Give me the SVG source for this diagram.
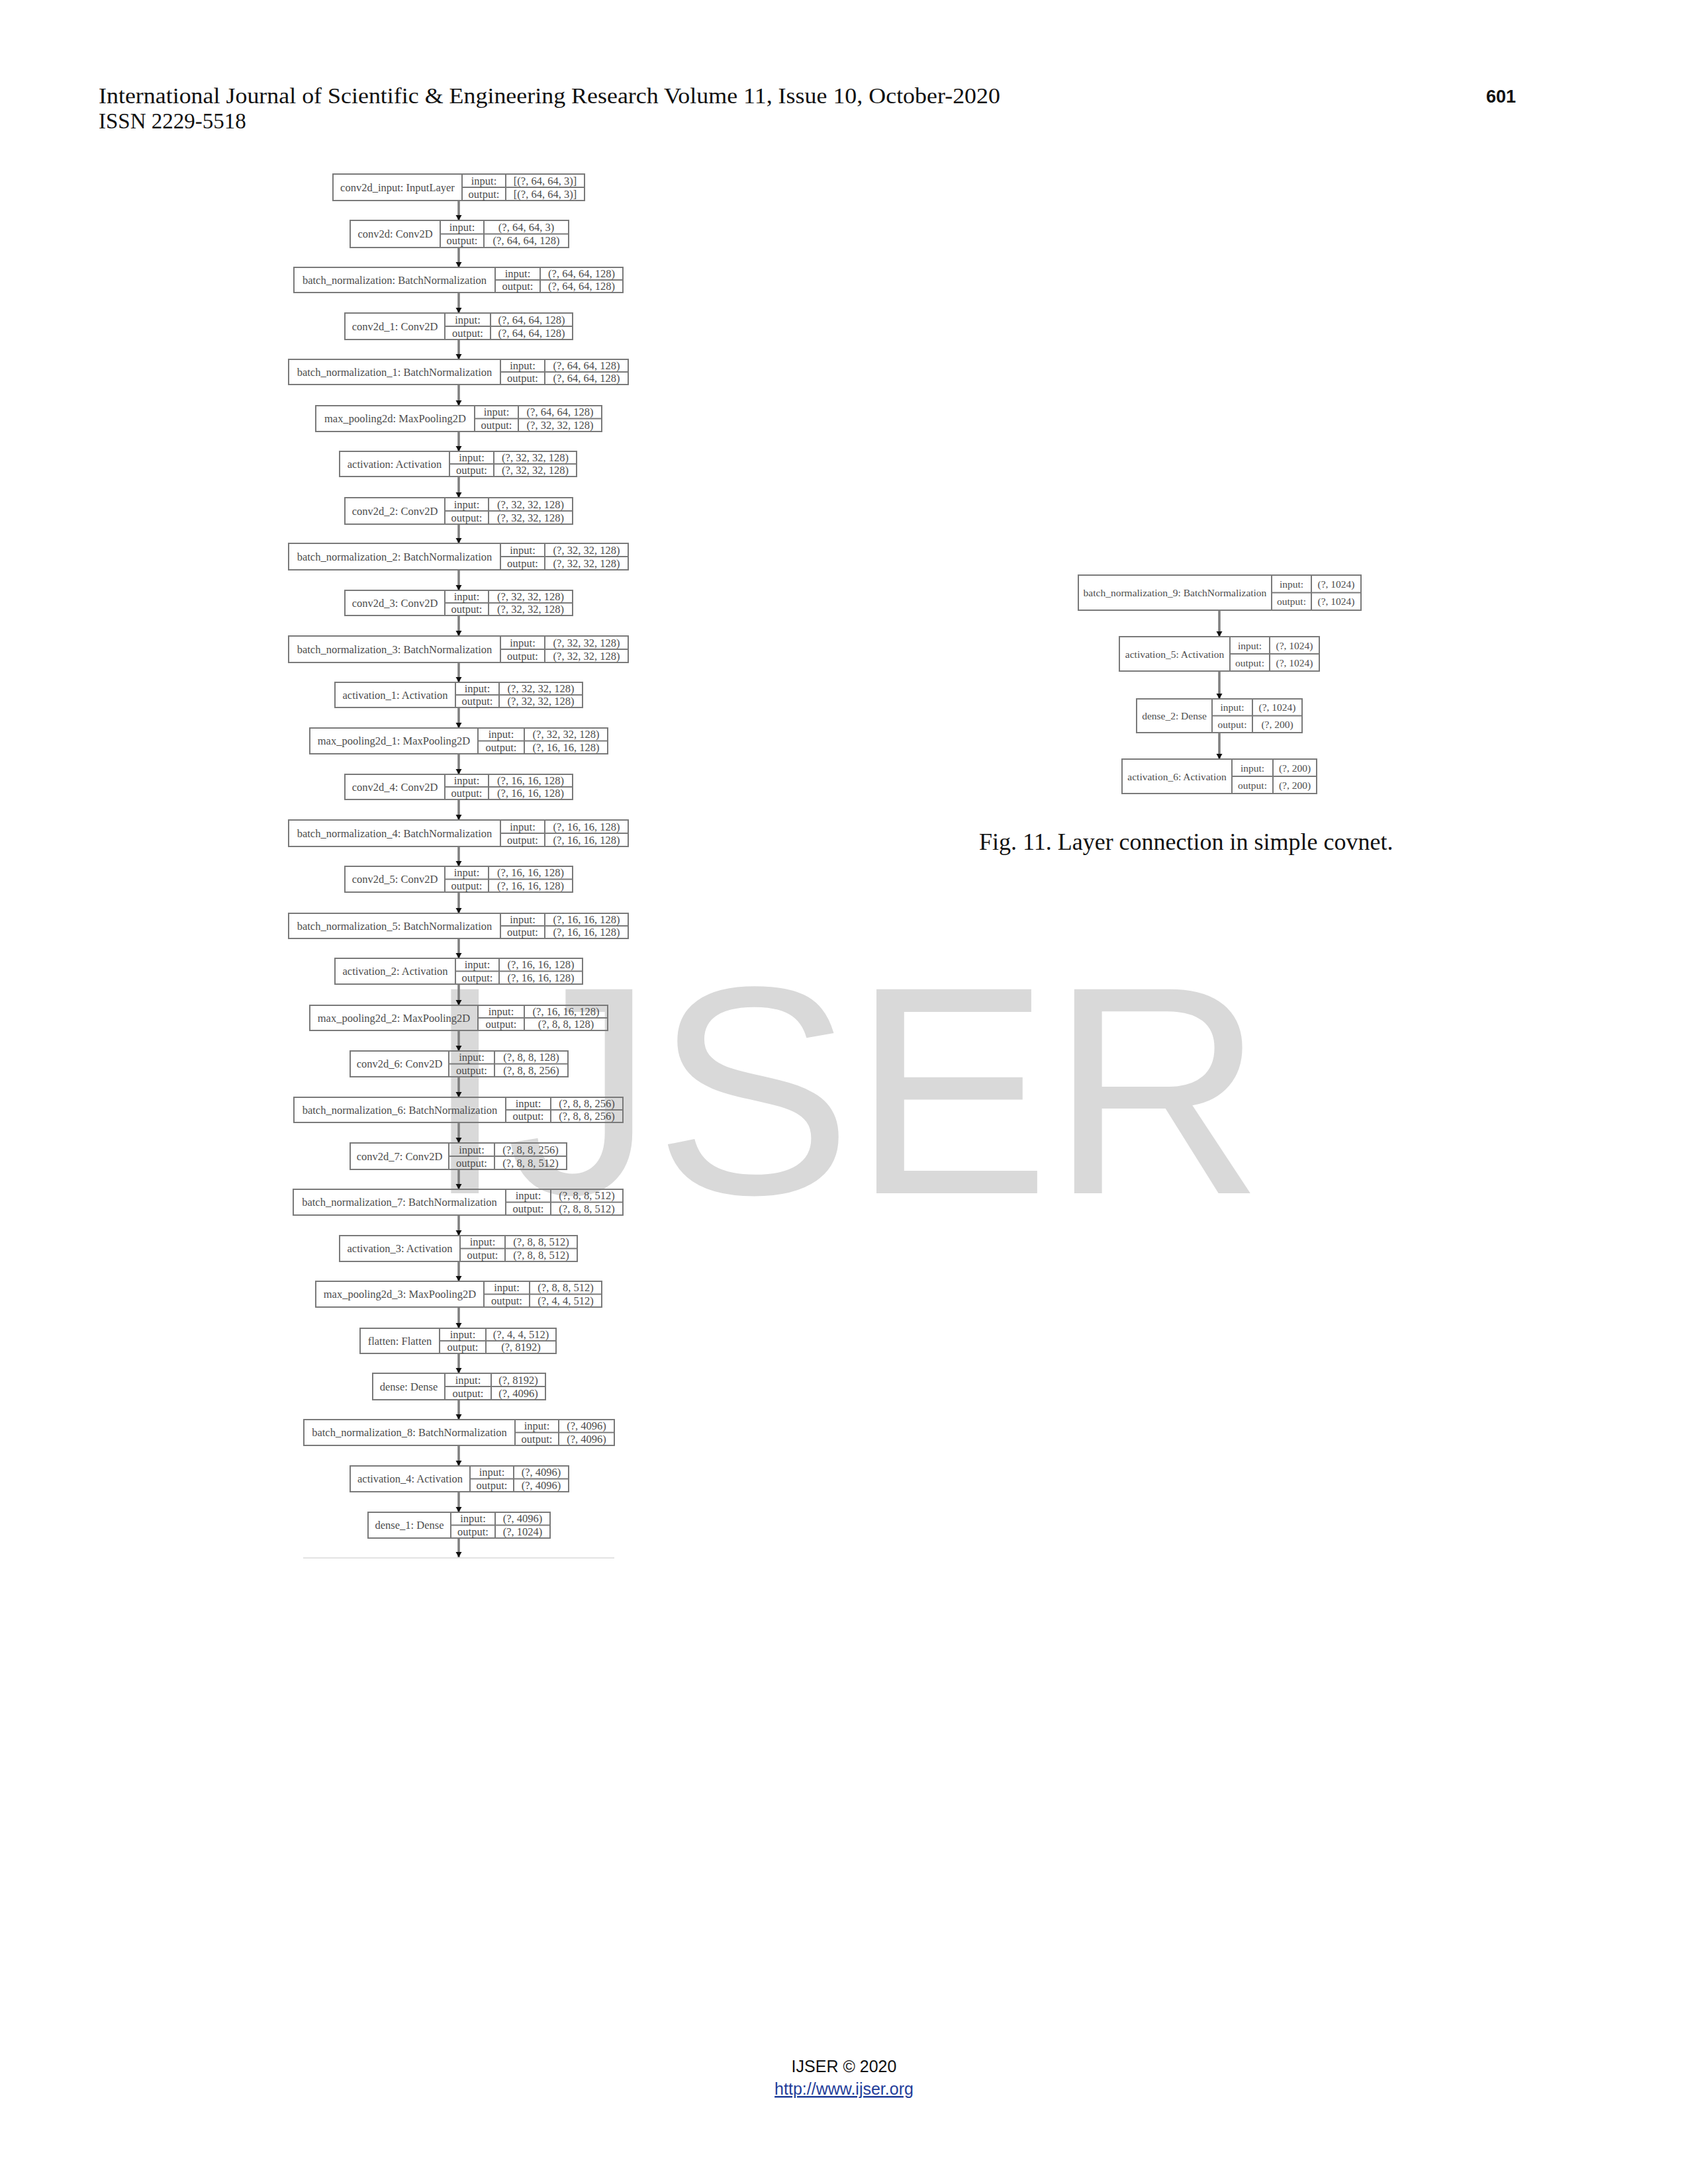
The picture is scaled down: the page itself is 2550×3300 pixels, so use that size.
<svg xmlns="http://www.w3.org/2000/svg" width="2550" height="3300" viewBox="0 0 2550 3300">
<style>
.b{fill:none;stroke:#7a7a7a;stroke-width:2}
.t{font-family:"Liberation Serif",serif;font-size:16.5px;fill:#4d4d4d;text-anchor:middle;dominant-baseline:central}
.r{font-family:"Liberation Serif",serif;font-size:15.5px;fill:#4d4d4d;text-anchor:middle;dominant-baseline:central}
.e{stroke:#7f7f7f;stroke-width:3.5;fill:none}
.hd{font-family:"Liberation Serif",serif;font-size:33px;fill:#111}
</style>
<defs>
<marker id="ah" markerUnits="userSpaceOnUse" markerWidth="10" markerHeight="10" refX="8" refY="4.5" orient="auto">
<path d="M0,0 L8,4.5 L0,9 z" fill="#111"/>
</marker>
</defs>
<rect width="2550" height="3300" fill="#fff"/>
<text class="hd" x="149" y="156" textLength="1362" lengthAdjust="spacingAndGlyphs">International Journal of Scientific &amp; Engineering Research Volume 11, Issue 10, October-2020</text>
<text class="hd" x="149" y="194">ISSN 2229-5518</text>
<text x="2245" y="155" font-family="Liberation Sans, sans-serif" font-size="27" font-weight="bold" fill="#111">601</text>
<text x="640" y="1803" font-family="Liberation Sans, sans-serif" font-size="448" fill="#d9d9d9">IJSER</text>

<g id="connectors">
<line class="e" x1="693" y1="303" x2="693" y2="333" marker-end="url(#ah)"/>
<line class="e" x1="693" y1="374" x2="693" y2="404" marker-end="url(#ah)"/>
<line class="e" x1="693" y1="442" x2="693" y2="473" marker-end="url(#ah)"/>
<line class="e" x1="693" y1="513" x2="693" y2="543" marker-end="url(#ah)"/>
<line class="e" x1="693" y1="581" x2="693" y2="613" marker-end="url(#ah)"/>
<line class="e" x1="693" y1="652" x2="693" y2="682" marker-end="url(#ah)"/>
<line class="e" x1="693" y1="720" x2="693" y2="752" marker-end="url(#ah)"/>
<line class="e" x1="693" y1="792" x2="693" y2="821" marker-end="url(#ah)"/>
<line class="e" x1="693" y1="861" x2="693" y2="892" marker-end="url(#ah)"/>
<line class="e" x1="693" y1="930" x2="693" y2="961" marker-end="url(#ah)"/>
<line class="e" x1="693" y1="1001" x2="693" y2="1031" marker-end="url(#ah)"/>
<line class="e" x1="693" y1="1069" x2="693" y2="1100" marker-end="url(#ah)"/>
<line class="e" x1="693" y1="1139" x2="693" y2="1170" marker-end="url(#ah)"/>
<line class="e" x1="693" y1="1208" x2="693" y2="1239" marker-end="url(#ah)"/>
<line class="e" x1="693" y1="1279" x2="693" y2="1309" marker-end="url(#ah)"/>
<line class="e" x1="693" y1="1348" x2="693" y2="1380" marker-end="url(#ah)"/>
<line class="e" x1="693" y1="1418" x2="693" y2="1448" marker-end="url(#ah)"/>
<line class="e" x1="693" y1="1487" x2="693" y2="1519" marker-end="url(#ah)"/>
<line class="e" x1="693" y1="1557" x2="693" y2="1588" marker-end="url(#ah)"/>
<line class="e" x1="693" y1="1627" x2="693" y2="1658" marker-end="url(#ah)"/>
<line class="e" x1="693" y1="1696" x2="693" y2="1727" marker-end="url(#ah)"/>
<line class="e" x1="693" y1="1767" x2="693" y2="1797" marker-end="url(#ah)"/>
<line class="e" x1="693" y1="1836" x2="693" y2="1867" marker-end="url(#ah)"/>
<line class="e" x1="693" y1="1906" x2="693" y2="1936" marker-end="url(#ah)"/>
<line class="e" x1="693" y1="1975" x2="693" y2="2007" marker-end="url(#ah)"/>
<line class="e" x1="693" y1="2045" x2="693" y2="2075" marker-end="url(#ah)"/>
<line class="e" x1="693" y1="2115" x2="693" y2="2145" marker-end="url(#ah)"/>
<line class="e" x1="693" y1="2184" x2="693" y2="2215" marker-end="url(#ah)"/>
<line class="e" x1="693" y1="2254" x2="693" y2="2285" marker-end="url(#ah)"/>
<line class="e" x1="693" y1="2324" x2="693" y2="2353" marker-end="url(#ah)"/>
<line class="e" x1="1842" y1="922" x2="1842" y2="962" marker-end="url(#ah)"/>
<line class="e" x1="1842" y1="1014" x2="1842" y2="1056" marker-end="url(#ah)"/>
<line class="e" x1="1842" y1="1107" x2="1842" y2="1147" marker-end="url(#ah)"/>
</g>
<line x1="458" y1="2354" x2="928" y2="2354" stroke="#e3e3e3" stroke-width="2"/>

<g id="n1"><rect class="b" x="503" y="263" width="380" height="40"/><path class="b" d="M698 263V303M764 263V303M698 283H883"/><text class="t" x="600.5" y="283">conv2d_input: InputLayer</text><text class="t" x="731" y="273">input:</text><text class="t" x="731" y="293">output:</text><text class="t" x="823.5" y="273">[(?, 64, 64, 3)]</text><text class="t" x="823.5" y="293">[(?, 64, 64, 3)]</text></g>
<g id="n2"><rect class="b" x="529" y="333" width="330" height="41"/><path class="b" d="M665 333V374M731 333V374M665 353.5H859"/><text class="t" x="597" y="353.5">conv2d: Conv2D</text><text class="t" x="698" y="343.25">input:</text><text class="t" x="698" y="363.75">output:</text><text class="t" x="795" y="343.25">(?, 64, 64, 3)</text><text class="t" x="795" y="363.75">(?, 64, 64, 128)</text></g>
<g id="n3"><rect class="b" x="444" y="404" width="497" height="38"/><path class="b" d="M748 404V442M816 404V442M748 423H941"/><text class="t" x="596" y="423">batch_normalization: BatchNormalization</text><text class="t" x="782" y="413.5">input:</text><text class="t" x="782" y="432.5">output:</text><text class="t" x="878.5" y="413.5">(?, 64, 64, 128)</text><text class="t" x="878.5" y="432.5">(?, 64, 64, 128)</text></g>
<g id="n4"><rect class="b" x="521" y="473" width="344" height="40"/><path class="b" d="M672 473V513M741 473V513M672 493H865"/><text class="t" x="596.5" y="493">conv2d_1: Conv2D</text><text class="t" x="706.5" y="483">input:</text><text class="t" x="706.5" y="503">output:</text><text class="t" x="803" y="483">(?, 64, 64, 128)</text><text class="t" x="803" y="503">(?, 64, 64, 128)</text></g>
<g id="n5"><rect class="b" x="436" y="543" width="513" height="38"/><path class="b" d="M756 543V581M823 543V581M756 562H949"/><text class="t" x="596" y="562">batch_normalization_1: BatchNormalization</text><text class="t" x="789.5" y="552.5">input:</text><text class="t" x="789.5" y="571.5">output:</text><text class="t" x="886" y="552.5">(?, 64, 64, 128)</text><text class="t" x="886" y="571.5">(?, 64, 64, 128)</text></g>
<g id="n6"><rect class="b" x="477" y="613" width="432" height="39"/><path class="b" d="M717 613V652M783 613V652M717 632.5H909"/><text class="t" x="597" y="632.5">max_pooling2d: MaxPooling2D</text><text class="t" x="750" y="622.75">input:</text><text class="t" x="750" y="642.25">output:</text><text class="t" x="846" y="622.75">(?, 64, 64, 128)</text><text class="t" x="846" y="642.25">(?, 32, 32, 128)</text></g>
<g id="n7"><rect class="b" x="513" y="682" width="358" height="38"/><path class="b" d="M679 682V720M746 682V720M679 701H871"/><text class="t" x="596" y="701">activation: Activation</text><text class="t" x="712.5" y="691.5">input:</text><text class="t" x="712.5" y="710.5">output:</text><text class="t" x="808.5" y="691.5">(?, 32, 32, 128)</text><text class="t" x="808.5" y="710.5">(?, 32, 32, 128)</text></g>
<g id="n8"><rect class="b" x="521" y="752" width="344" height="40"/><path class="b" d="M672 752V792M738 752V792M672 772H865"/><text class="t" x="596.5" y="772">conv2d_2: Conv2D</text><text class="t" x="705" y="762">input:</text><text class="t" x="705" y="782">output:</text><text class="t" x="801.5" y="762">(?, 32, 32, 128)</text><text class="t" x="801.5" y="782">(?, 32, 32, 128)</text></g>
<g id="n9"><rect class="b" x="436" y="821" width="513" height="40"/><path class="b" d="M756 821V861M823 821V861M756 841H949"/><text class="t" x="596" y="841">batch_normalization_2: BatchNormalization</text><text class="t" x="789.5" y="831">input:</text><text class="t" x="789.5" y="851">output:</text><text class="t" x="886" y="831">(?, 32, 32, 128)</text><text class="t" x="886" y="851">(?, 32, 32, 128)</text></g>
<g id="n10"><rect class="b" x="521" y="892" width="344" height="38"/><path class="b" d="M672 892V930M738 892V930M672 911H865"/><text class="t" x="596.5" y="911">conv2d_3: Conv2D</text><text class="t" x="705" y="901.5">input:</text><text class="t" x="705" y="920.5">output:</text><text class="t" x="801.5" y="901.5">(?, 32, 32, 128)</text><text class="t" x="801.5" y="920.5">(?, 32, 32, 128)</text></g>
<g id="n11"><rect class="b" x="436" y="961" width="513" height="40"/><path class="b" d="M756 961V1001M823 961V1001M756 981H949"/><text class="t" x="596" y="981">batch_normalization_3: BatchNormalization</text><text class="t" x="789.5" y="971">input:</text><text class="t" x="789.5" y="991">output:</text><text class="t" x="886" y="971">(?, 32, 32, 128)</text><text class="t" x="886" y="991">(?, 32, 32, 128)</text></g>
<g id="n12"><rect class="b" x="506" y="1031" width="374" height="38"/><path class="b" d="M688 1031V1069M754 1031V1069M688 1050H880"/><text class="t" x="597" y="1050">activation_1: Activation</text><text class="t" x="721" y="1040.5">input:</text><text class="t" x="721" y="1059.5">output:</text><text class="t" x="817" y="1040.5">(?, 32, 32, 128)</text><text class="t" x="817" y="1059.5">(?, 32, 32, 128)</text></g>
<g id="n13"><rect class="b" x="468" y="1100" width="450" height="39"/><path class="b" d="M722 1100V1139M792 1100V1139M722 1119.5H918"/><text class="t" x="595" y="1119.5">max_pooling2d_1: MaxPooling2D</text><text class="t" x="757" y="1109.75">input:</text><text class="t" x="757" y="1129.25">output:</text><text class="t" x="855" y="1109.75">(?, 32, 32, 128)</text><text class="t" x="855" y="1129.25">(?, 16, 16, 128)</text></g>
<g id="n14"><rect class="b" x="521" y="1170" width="344" height="38"/><path class="b" d="M672 1170V1208M738 1170V1208M672 1189H865"/><text class="t" x="596.5" y="1189">conv2d_4: Conv2D</text><text class="t" x="705" y="1179.5">input:</text><text class="t" x="705" y="1198.5">output:</text><text class="t" x="801.5" y="1179.5">(?, 16, 16, 128)</text><text class="t" x="801.5" y="1198.5">(?, 16, 16, 128)</text></g>
<g id="n15"><rect class="b" x="436" y="1239" width="513" height="40"/><path class="b" d="M756 1239V1279M823 1239V1279M756 1259H949"/><text class="t" x="596" y="1259">batch_normalization_4: BatchNormalization</text><text class="t" x="789.5" y="1249">input:</text><text class="t" x="789.5" y="1269">output:</text><text class="t" x="886" y="1249">(?, 16, 16, 128)</text><text class="t" x="886" y="1269">(?, 16, 16, 128)</text></g>
<g id="n16"><rect class="b" x="521" y="1309" width="344" height="39"/><path class="b" d="M672 1309V1348M738 1309V1348M672 1328.5H865"/><text class="t" x="596.5" y="1328.5">conv2d_5: Conv2D</text><text class="t" x="705" y="1318.75">input:</text><text class="t" x="705" y="1338.25">output:</text><text class="t" x="801.5" y="1318.75">(?, 16, 16, 128)</text><text class="t" x="801.5" y="1338.25">(?, 16, 16, 128)</text></g>
<g id="n17"><rect class="b" x="436" y="1380" width="513" height="38"/><path class="b" d="M756 1380V1418M823 1380V1418M756 1399H949"/><text class="t" x="596" y="1399">batch_normalization_5: BatchNormalization</text><text class="t" x="789.5" y="1389.5">input:</text><text class="t" x="789.5" y="1408.5">output:</text><text class="t" x="886" y="1389.5">(?, 16, 16, 128)</text><text class="t" x="886" y="1408.5">(?, 16, 16, 128)</text></g>
<g id="n18"><rect class="b" x="506" y="1448" width="374" height="39"/><path class="b" d="M688 1448V1487M754 1448V1487M688 1467.5H880"/><text class="t" x="597" y="1467.5">activation_2: Activation</text><text class="t" x="721" y="1457.75">input:</text><text class="t" x="721" y="1477.25">output:</text><text class="t" x="817" y="1457.75">(?, 16, 16, 128)</text><text class="t" x="817" y="1477.25">(?, 16, 16, 128)</text></g>
<g id="n19"><rect class="b" x="468" y="1519" width="450" height="38"/><path class="b" d="M722 1519V1557M792 1519V1557M722 1538H918"/><text class="t" x="595" y="1538">max_pooling2d_2: MaxPooling2D</text><text class="t" x="757" y="1528.5">input:</text><text class="t" x="757" y="1547.5">output:</text><text class="t" x="855" y="1528.5">(?, 16, 16, 128)</text><text class="t" x="855" y="1547.5">(?, 8, 8, 128)</text></g>
<g id="n20"><rect class="b" x="529" y="1588" width="329" height="39"/><path class="b" d="M678 1588V1627M747 1588V1627M678 1607.5H858"/><text class="t" x="603.5" y="1607.5">conv2d_6: Conv2D</text><text class="t" x="712.5" y="1597.75">input:</text><text class="t" x="712.5" y="1617.25">output:</text><text class="t" x="802.5" y="1597.75">(?, 8, 8, 128)</text><text class="t" x="802.5" y="1617.25">(?, 8, 8, 256)</text></g>
<g id="n21"><rect class="b" x="444" y="1658" width="497" height="38"/><path class="b" d="M764 1658V1696M832 1658V1696M764 1677H941"/><text class="t" x="604" y="1677">batch_normalization_6: BatchNormalization</text><text class="t" x="798" y="1667.5">input:</text><text class="t" x="798" y="1686.5">output:</text><text class="t" x="886.5" y="1667.5">(?, 8, 8, 256)</text><text class="t" x="886.5" y="1686.5">(?, 8, 8, 256)</text></g>
<g id="n22"><rect class="b" x="529" y="1727" width="327" height="40"/><path class="b" d="M678 1727V1767M747 1727V1767M678 1747H856"/><text class="t" x="603.5" y="1747">conv2d_7: Conv2D</text><text class="t" x="712.5" y="1737">input:</text><text class="t" x="712.5" y="1757">output:</text><text class="t" x="801.5" y="1737">(?, 8, 8, 256)</text><text class="t" x="801.5" y="1757">(?, 8, 8, 512)</text></g>
<g id="n23"><rect class="b" x="443" y="1797" width="498" height="39"/><path class="b" d="M764 1797V1836M832 1797V1836M764 1816.5H941"/><text class="t" x="603.5" y="1816.5">batch_normalization_7: BatchNormalization</text><text class="t" x="798" y="1806.75">input:</text><text class="t" x="798" y="1826.25">output:</text><text class="t" x="886.5" y="1806.75">(?, 8, 8, 512)</text><text class="t" x="886.5" y="1826.25">(?, 8, 8, 512)</text></g>
<g id="n24"><rect class="b" x="513" y="1867" width="359" height="39"/><path class="b" d="M695 1867V1906M763 1867V1906M695 1886.5H872"/><text class="t" x="604" y="1886.5">activation_3: Activation</text><text class="t" x="729" y="1876.75">input:</text><text class="t" x="729" y="1896.25">output:</text><text class="t" x="817.5" y="1876.75">(?, 8, 8, 512)</text><text class="t" x="817.5" y="1896.25">(?, 8, 8, 512)</text></g>
<g id="n25"><rect class="b" x="477" y="1936" width="432" height="39"/><path class="b" d="M731 1936V1975M800 1936V1975M731 1955.5H909"/><text class="t" x="604" y="1955.5">max_pooling2d_3: MaxPooling2D</text><text class="t" x="765.5" y="1945.75">input:</text><text class="t" x="765.5" y="1965.25">output:</text><text class="t" x="854.5" y="1945.75">(?, 8, 8, 512)</text><text class="t" x="854.5" y="1965.25">(?, 4, 4, 512)</text></g>
<g id="n26"><rect class="b" x="544" y="2007" width="296" height="38"/><path class="b" d="M664 2007V2045M734 2007V2045M664 2026H840"/><text class="t" x="604" y="2026">flatten: Flatten</text><text class="t" x="699" y="2016.5">input:</text><text class="t" x="699" y="2035.5">output:</text><text class="t" x="787" y="2016.5">(?, 4, 4, 512)</text><text class="t" x="787" y="2035.5">(?, 8192)</text></g>
<g id="n27"><rect class="b" x="563" y="2075" width="261" height="40"/><path class="b" d="M672 2075V2115M742 2075V2115M672 2095H824"/><text class="t" x="617.5" y="2095">dense: Dense</text><text class="t" x="707" y="2085">input:</text><text class="t" x="707" y="2105">output:</text><text class="t" x="783" y="2085">(?, 8192)</text><text class="t" x="783" y="2105">(?, 4096)</text></g>
<g id="n28"><rect class="b" x="459" y="2145" width="469" height="39"/><path class="b" d="M778 2145V2184M844 2145V2184M778 2164.5H928"/><text class="t" x="618.5" y="2164.5">batch_normalization_8: BatchNormalization</text><text class="t" x="811" y="2154.75">input:</text><text class="t" x="811" y="2174.25">output:</text><text class="t" x="886" y="2154.75">(?, 4096)</text><text class="t" x="886" y="2174.25">(?, 4096)</text></g>
<g id="n29"><rect class="b" x="529" y="2215" width="330" height="39"/><path class="b" d="M710 2215V2254M776 2215V2254M710 2234.5H859"/><text class="t" x="619.5" y="2234.5">activation_4: Activation</text><text class="t" x="743" y="2224.75">input:</text><text class="t" x="743" y="2244.25">output:</text><text class="t" x="817.5" y="2224.75">(?, 4096)</text><text class="t" x="817.5" y="2244.25">(?, 4096)</text></g>
<g id="n30"><rect class="b" x="556" y="2285" width="275" height="39"/><path class="b" d="M681 2285V2324M748 2285V2324M681 2304.5H831"/><text class="t" x="618.5" y="2304.5">dense_1: Dense</text><text class="t" x="714.5" y="2294.75">input:</text><text class="t" x="714.5" y="2314.25">output:</text><text class="t" x="789.5" y="2294.75">(?, 4096)</text><text class="t" x="789.5" y="2314.25">(?, 1024)</text></g>

<g id="r1"><rect class="b" x="1629" y="869" width="427" height="53"/><path class="b" d="M1921 869V922M1981 869V922M1921 895.5H2056"/><text class="r" x="1775" y="895.5">batch_normalization_9: BatchNormalization</text><text class="r" x="1951" y="882.25">input:</text><text class="r" x="1951" y="908.75">output:</text><text class="r" x="2018.5" y="882.25">(?, 1024)</text><text class="r" x="2018.5" y="908.75">(?, 1024)</text></g>
<g id="r2"><rect class="b" x="1691" y="962" width="302" height="52"/><path class="b" d="M1858 962V1014M1918 962V1014M1858 988H1993"/><text class="r" x="1774.5" y="988">activation_5: Activation</text><text class="r" x="1888" y="975">input:</text><text class="r" x="1888" y="1001">output:</text><text class="r" x="1955.5" y="975">(?, 1024)</text><text class="r" x="1955.5" y="1001">(?, 1024)</text></g>
<g id="r3"><rect class="b" x="1717" y="1056" width="250" height="51"/><path class="b" d="M1831 1056V1107M1892 1056V1107M1831 1081.5H1967"/><text class="r" x="1774" y="1081.5">dense_2: Dense</text><text class="r" x="1861.5" y="1068.75">input:</text><text class="r" x="1861.5" y="1094.25">output:</text><text class="r" x="1929.5" y="1068.75">(?, 1024)</text><text class="r" x="1929.5" y="1094.25">(?, 200)</text></g>
<g id="r4"><rect class="b" x="1695" y="1147" width="294" height="52"/><path class="b" d="M1861 1147V1199M1923 1147V1199M1861 1173H1989"/><text class="r" x="1778" y="1173">activation_6: Activation</text><text class="r" x="1892" y="1160">input:</text><text class="r" x="1892" y="1186">output:</text><text class="r" x="1956" y="1160">(?, 200)</text><text class="r" x="1956" y="1186">(?, 200)</text></g>

<text x="1479" y="1284" font-family="Liberation Serif, serif" font-size="36" fill="#111">Fig. 11. Layer connection in simple covnet.</text>
<text x="1275" y="3131" font-family="Liberation Sans, sans-serif" font-size="25" fill="#111" text-anchor="middle">IJSER © 2020</text>
<text x="1275" y="3165" font-family="Liberation Sans, sans-serif" font-size="25" fill="#1f3d99" text-anchor="middle" text-decoration="underline">http://www.ijser.org</text>
</svg>
